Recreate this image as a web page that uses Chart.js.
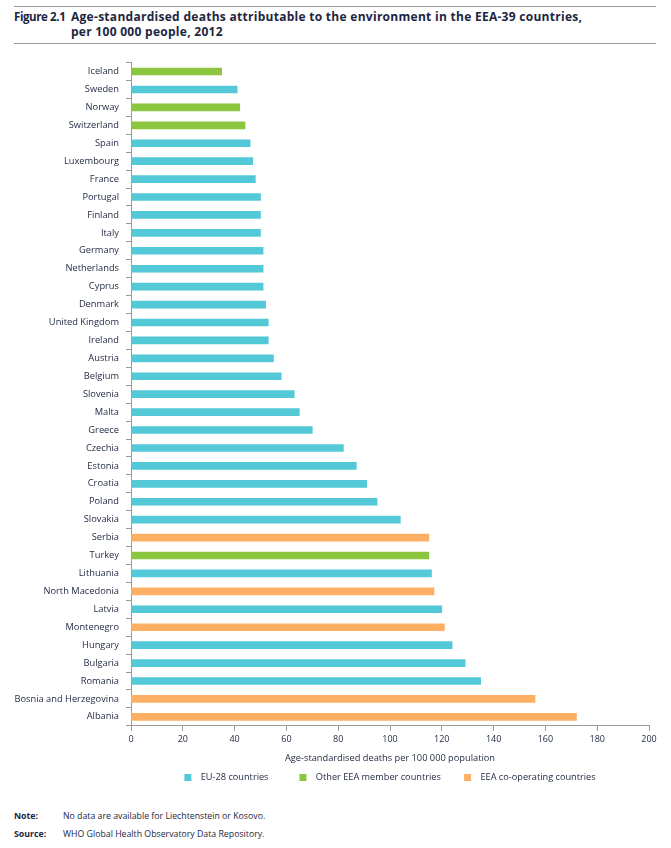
<!DOCTYPE html>
<html>
<head>
<meta charset="utf-8">
<script src="https://cdn.jsdelivr.net/npm/chart.js@4"></script>
<style>
  body { margin: 0; background: #fff; font-family: 'Open Sans', sans-serif; color: #1d2640; }
  #page { position: relative; width: 671px; height: 848px; overflow: hidden; }
  .rule { position: absolute; left: 14px; width: 642px; height: 0; border-top: 1.5px solid #9a9a9a; }
  #fig-no { position: absolute; left: 14px; top: 9px; font-size: 11.5px; font-weight: 700; line-height: 15px; letter-spacing: -0.4px; }
  #fig-title { position: absolute; left: 71px; top: 9px; font-size: 12px; font-weight: 700; line-height: 15px; letter-spacing: 0.28px; }
  #chart-wrap { position: absolute; left: 0; top: 50px; width: 671px; height: 742px; }
  .foot { position: absolute; left: 14px; font-size: 8.75px; }
  .foot b { display: inline-block; width: 49px; }
</style>
</head>
<body>
<div id="page">
  <div class="rule" style="top:6px"></div>
  <div id="fig-no">Figure 2.1</div>
  <div id="fig-title">Age-standardised deaths attributable to the environment in the EEA-39 countries,<br>per 100 000 people, 2012</div>
  <div class="rule" style="top:43px"></div>
  <div id="chart-wrap"><canvas id="chart"></canvas></div>
  <div class="foot" style="top:810px"><b>Note:</b>No data are available for Liechtenstein or Kosovo.</div>
  <div class="foot" style="top:828px"><b>Source:</b>WHO Global Health Observatory Data Repository.</div>
</div>
<script>
const countries = [
  'Iceland', 'Sweden', 'Norway', 'Switzerland', 'Spain', 'Luxembourg', 'France', 'Portugal',
  'Finland', 'Italy', 'Germany', 'Netherlands', 'Cyprus', 'Denmark', 'United Kingdom', 'Ireland',
  'Austria', 'Belgium', 'Slovenia', 'Malta', 'Greece', 'Czechia', 'Estonia', 'Croatia', 'Poland',
  'Slovakia', 'Serbia', 'Turkey', 'Lithuania', 'North Macedonia', 'Latvia', 'Montenegro',
  'Hungary', 'Bulgaria', 'Romania', 'Bosnia and Herzegovina', 'Albania'
];
const deaths = [
  35, 41, 42, 44, 46, 47, 48, 50,
  50, 50, 51, 51, 51, 52, 53, 53,
  55, 58, 63, 65, 70, 82, 87, 91, 95,
  104, 115, 115, 116, 117, 120, 121,
  124, 129, 135, 156, 172
];
// 0 = EU-28, 1 = other EEA member, 2 = EEA co-operating
const groupOf = [
  1, 0, 1, 1, 0, 0, 0, 0,
  0, 0, 0, 0, 0, 0, 0, 0,
  0, 0, 0, 0, 0, 0, 0, 0, 0,
  0, 2, 1, 0, 2, 0, 2,
  0, 0, 0, 2, 2
];
const groupNames = ['EU-28 countries', 'Other EEA member countries', 'EEA co-operating countries'];
const groupColors = ['#53c8d6', '#8cc63f', '#fdb063'];
const xTicks = [0, 20, 40, 60, 80, 100, 120, 140, 160, 180, 200];

const FONT = "'Open Sans', sans-serif";
const TEXT = '#1d2640';
const AXIS = '#9a9a9a';

const datasets = groupNames.map((name, g) => ({
  label: name,
  data: deaths.map((v, i) => groupOf[i] === g ? v : null),
  backgroundColor: groupColors[g],
  borderWidth: 0,
  barThickness: 7,
  grouped: false,
}));

// the printed legend has wider gaps than chart.js gives, so pad with spaces
const legendGapAfter = ['\u2002\u2002\u2002\u2002\u2002', '\u2002\u2002\u2002\u2009', ''];

new Chart(document.getElementById('chart'), {
  type: 'bar',
  data: { labels: countries, datasets },
  options: {
    indexAxis: 'y',
    responsive: true,
    maintainAspectRatio: false,
    animation: false,
    layout: { padding: { top: 2, right: 22, left: 0, bottom: 0 } },
    plugins: {
      legend: {
        position: 'bottom',
        fullSize: false,
        labels: {
          boxWidth: 7, boxHeight: 7, padding: 8,
          color: TEXT, font: { family: FONT, size: 9.2 },
          generateLabels: chart => Chart.defaults.plugins.legend.labels.generateLabels(chart)
            .map((l, i) => ({ ...l, text: '\u00a0\u00a0' + l.text + legendGapAfter[i] })),
        },
      },
      tooltip: { enabled: false },
    },
    scales: {
      x: {
        min: 0, max: 200,
        afterBuildTicks: s => { s.ticks = xTicks.map(v => ({ value: v })); },
        afterFit: s => { s.height = 39; },
        ticks: { color: TEXT, font: { family: FONT, size: 9 }, padding: 3 },
        grid: { drawOnChartArea: false, drawTicks: true, tickLength: 5, color: AXIS },
        border: { color: AXIS, width: 1 },
        title: {
          display: true, text: 'Age-standardised deaths per 100 000 population',
          color: TEXT, font: { family: FONT, size: 9.25 }, padding: { top: 3, bottom: 1 },
        },
      },
      y: {
        afterFit: s => { s.width = 131; },
        ticks: { color: TEXT, font: { family: FONT, size: 9.3 }, padding: 7, autoSkip: false },
        grid: { drawOnChartArea: false, drawTicks: true, tickLength: 5, color: AXIS, offset: true },
        border: { color: AXIS, width: 1 },
      },
    },
  },
});
</script>
</body>
</html>
